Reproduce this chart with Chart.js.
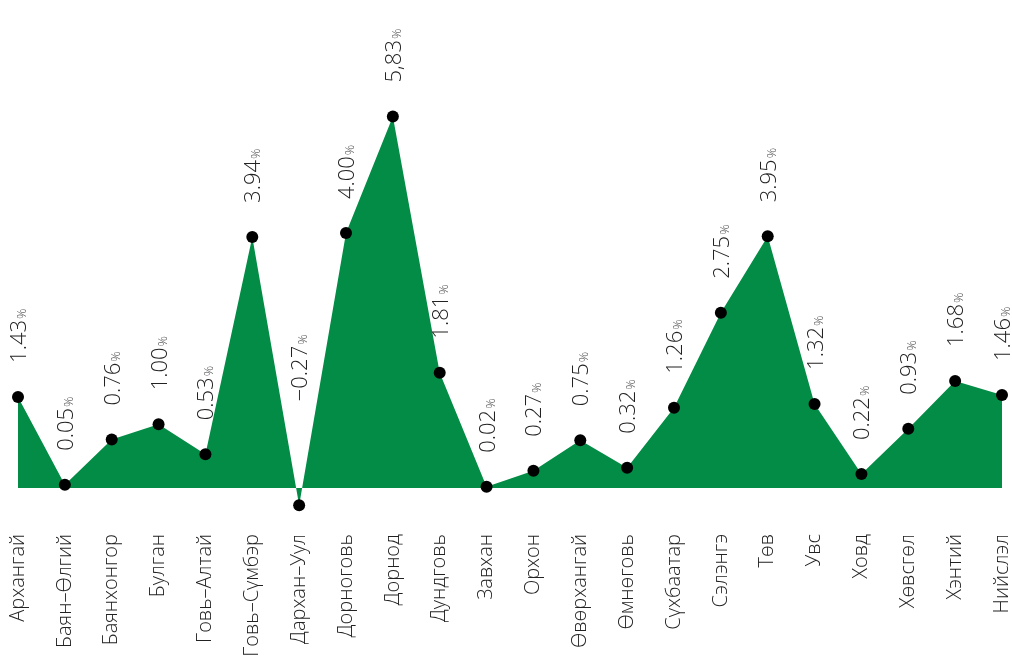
<!DOCTYPE html>
<html>
<head>
<meta charset="utf-8">
<script src="https://cdn.jsdelivr.net/npm/chart.js@4"></script>
<style>
  html, body { margin: 0; padding: 0; background: #fff; }
  #wrap { width: 1012px; height: 661px; position: relative; }
</style>
</head>
<body>
<div id="wrap"><canvas id="c" width="1012" height="661"></canvas></div>
<script>
// aimag names
const regions = ['Архангай','Баян–Өлгий','Баянхонгор','Булган','Говь–Алтай','Говь–Сүмбэр','Дархан–Уул','Дорноговь','Дорнод','Дундговь','Завхан','Орхон','Өвөрхангай','Өмнөговь','Сүхбаатар','Сэлэнгэ','Төв','Увс','Ховд','Хөвсгөл','Хэнтий','Нийслэл']
// percent values
const values = [1.43,0.05,0.76,1.00,0.53,3.94,-0.27,4.00,5.83,1.81,0.02,0.27,0.75,0.32,1.26,2.75,3.95,1.32,0.22,0.93,1.68,1.46]
// labels exactly as printed
const valueLabels = ['1.43','0.05','0.76','1.00','0.53','3.94','−0.27','4.00','5,83','1.81','0.02','0.27','0.75','0.32','1.26','2.75','3.95','1.32','0.22','0.93','1.68','1.46']

const FONT = "'Open Sans', 'Noto Sans', sans-serif"
const GREEN = '#038c45'

const valueLabelPlugin = {
  id: 'valueLabels',
  afterDatasetsDraw(chart){
    const ctx = chart.ctx
    const meta = chart.getDatasetMeta(0)
    const zeroY = chart.scales.y.getPixelForValue(0)
    meta.data.forEach((pt, i) => {
      const gap = values[i] < 0 ? 104 : 34
      const y = Math.min(pt.y, zeroY + 20) - gap
      ctx.save()
      ctx.translate(pt.x + 8, y)
      ctx.rotate(-Math.PI / 2)
      ctx.fillStyle = '#222'
      ctx.textAlign = 'left'
      ctx.textBaseline = 'alphabetic'
      ctx.font = '300 22px ' + FONT
      ctx.fillText(valueLabels[i], 0, 0)
      const w = ctx.measureText(valueLabels[i]).width
      ctx.font = '300 13px ' + FONT
      ctx.fillStyle = '#555'
      ctx.fillText('%', w + 1, 0)
      ctx.restore()
    })
  }
}

new Chart(document.getElementById('c'), {
  type: 'line',
  data: {
    labels: regions,
    datasets: [{
      data: values,
      fill: 'origin',
      backgroundColor: GREEN,
      borderColor: GREEN,
      borderWidth: 0,
      tension: 0,
      pointRadius: 6,
      pointBackgroundColor: '#000',
      pointBorderWidth: 0
    }]
  },
  options: {
    responsive: false,
    animation: false,
    devicePixelRatio: 1,
    layout: { padding: { top: 10, left: 18, right: 10, bottom: 0 } },
    plugins: { legend: { display: false }, tooltip: { enabled: false } },
    scales: {
      x: {
        offset: false,
        grid: { display: false },
        border: { display: false },
        ticks: {
          minRotation: 90, maxRotation: 90, autoSkip: false, padding: 1,
          color: '#222',
          font: { family: FONT, size: 20, weight: '300' }
        },
        afterFit(scale){
          scale.height = 136
          scale.paddingLeft = 0
          scale.paddingRight = 0
        }
      },
      y: {
        display: false,
        min: -0.58,
        max: 7.5
      }
    }
  },
  plugins: [valueLabelPlugin]
});
</script>
</body>
</html>
